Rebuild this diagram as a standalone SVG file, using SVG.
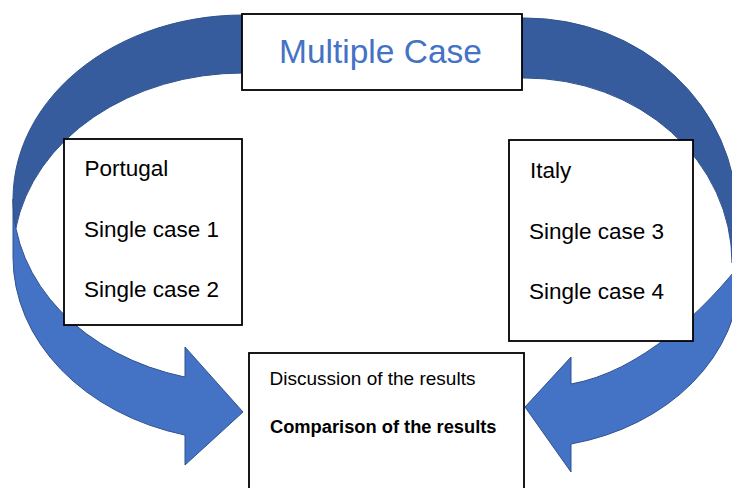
<svg xmlns="http://www.w3.org/2000/svg" width="732" height="488" viewBox="0 0 732 488">
  <defs>
    <style>
      .band-light { fill: #4472C4; stroke: #2F528F; stroke-width: 1; stroke-linejoin: miter; }
      .band-dark { fill: #375C9D; stroke: #2F528F; stroke-width: 1; }
      .box { fill: #FFFFFF; stroke: #000000; stroke-width: 1.8; }
      .label { font-family: "Liberation Sans", Arial, sans-serif; fill: #000000; }
      .case { font-size: 22.5px; }
      .title { font-size: 33.5px; fill: #4472C4; }
      .small { font-size: 19px; }
      .bold { font-size: 18.3px; font-weight: bold; }
    </style>
  </defs>

  <!-- curved arrows looping from the top box down to the results box -->
  <g id="connectors">
    <g id="arrow-left">
      <path class="band-light" d="M 13 199 A 230 184 0 0 0 185 377.1 L 185 347 L 243 412 L 185 465 L 185 435.1 A 230 184 0 0 1 13 257 Z"/>
      <path class="band-dark" d="M 243 15 A 230 184 0 0 0 15.9 228 A 230 184 0 0 1 243 73 Z"/>
    </g>
    <g id="arrow-right">
      <path class="band-light" d="M 571 384 L 571 357 L 525 407 L 571 472 L 571 444 A 215 175.4 0 0 0 740 272.6 L 745 258 C 705 310 640 372 571 384 Z"/>
      <path class="band-dark" d="M 500 18 L 525 18 A 212 197.6 0 0 1 737 215.6 L 742 240 L 732 263 A 207 185 0 0 0 525 78 L 500 78 Z"/>
    </g>
  </g>

  <g id="multiple-case">
    <rect class="box" x="242" y="14" width="280" height="76"/>
    <text class="label title" x="279" y="63">Multiple Case</text>
  </g>

  <g id="portugal">
    <rect class="box" x="64" y="139" width="178" height="186"/>
    <text class="label case" x="84.5" y="176">Portugal</text>
    <text class="label case" x="84" y="237">Single case 1</text>
    <text class="label case" x="84" y="297">Single case 2</text>
  </g>

  <g id="italy">
    <rect class="box" x="509" y="140" width="184" height="201"/>
    <text class="label case" x="530" y="178">Italy</text>
    <text class="label case" x="529" y="239">Single case 3</text>
    <text class="label case" x="529" y="299">Single case 4</text>
  </g>

  <g id="results">
    <rect class="box" x="249" y="353" width="275" height="140"/>
    <text class="label small" x="269.5" y="385">Discussion of the results</text>
    <text class="label bold" x="270" y="433">Comparison of the results</text>
  </g>
</svg>
